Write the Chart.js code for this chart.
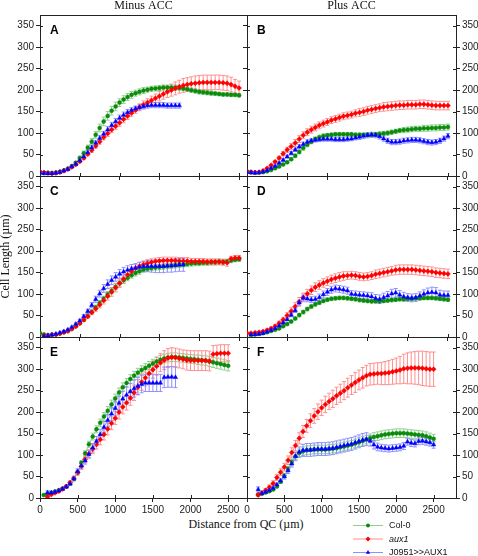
<!DOCTYPE html>
<html>
<head>
<meta charset="utf-8">
<script src="https://cdn.jsdelivr.net/npm/chart.js@4.4.1/dist/chart.umd.min.js"></script>
<style>
  html, body { margin: 0; padding: 0; background: #fff; }
  #wrap { position: relative; width: 478px; height: 556px; overflow: hidden; }
  #wrap canvas { position: absolute; left: 0; top: 0; }
  #xTitle { position: absolute; left: 96px; width: 300px; top: 517px; text-align: center;
    font: 12px 'Liberation Serif', 'Times New Roman', serif; color: #111; line-height: 14px; }
</style>
</head>
<body>
<div id="wrap"><div id="xTitle">Distance from QC (µm)</div></div>
<script>
// distance from QC (µm), one entry per measured position
const distance = [0,50,100,150,200,250,300,350,400,450,500,550,600,650,700,750,800,850,900,950,
  1000,1050,1100,1150,1200,1250,1300,1350,1400,1450,1500,1550,1600,1650,1700,1750,1800,1850,1900,1950,
  2000,2050,2100,2150,2200,2250,2300,2350,2400,2450,2500];
const xTickValues = [0, 500, 1000, 1500, 2000, 2500];
const yTickValues = [0, 50, 100, 150, 200, 250, 300, 350];
const seriesNames = ['Col-0', 'aux1', 'J0951>>AUX1'];

// A - minus ACC
const colA = [8,7,7,7,8,10,13,17,23,31, 42,53,66,80,96,112,127,140,152,162, 171,178,184,189,193,196,199,201,203,204, 205,206,206,206,206,205,204,202,200,198, 196,195,194,193,192,191,190,190,189,189, 188];
const auxA = [10,8,7,6,7,9,12,16,21,27, 34,42,51,60,70,80,90,99,108,116, 124,132,140,147,154,160,166,171,176,181, 186,191,196,200,204,208,211,213,215,216, 217,218,218,218,218,218,217,216,213,209, 205];
const j09A = [7,6,6,6,7,9,12,16,22,28, 36,45,55,66,77,88,98,108,118,127, 135,142,148,153,157,160,162,164,165,165, 165,165,164,164,164,164,null,null,null,null, null,null,null,null,null,null,null,null,null,null, null];
const eColA = [1,1,1,1,1,1,2,2,3,3, 4,5,6,7,8,9,10,10,10,10, 9,9,8,8,7,7,7,6,6,6, 6,6,6,6,6,5,5,5,5,5, 5,5,5,5,4,4,4,4,4,4, 4];
const eAuxA = [2,1,1,1,1,1,2,2,2,3, 3,4,4,5,5,6,6,7,7,7, 8,8,8,8,8,8,9,9,10,10, 11,12,13,14,15,15,16,16,16,17, 17,17,17,17,17,17,17,17,17,16, 16];
const eJ09A = [1,1,1,1,1,1,1,2,2,3, 3,4,4,5,5,6,6,7,7,7, 7,7,7,6,6,6,6,6,6,6, 6,6,6,6,6,6,0,0,0,0, 0,0,0,0,0,0,0,0,0,0, 0];

// B - plus ACC
const colB = [10,9,8,8,9,11,14,18,22,27, 32,39,47,56,65,73,80,86,90,93, 95,96,97,97,97,97,97,96,96,96, 96,96,97,98,99,100,102,104,106,107, 108,109,110,110,111,111,112,112,113,113, 114];
const auxB = [11,9,8,9,12,18,25,33,42,52, 61,69,77,86,95,102,108,113,118,122, 126,130,133,136,139,141,143,146,148,150, 153,155,157,159,161,162,163,164,165,165, 166,166,166,167,167,166,165,164,164,164, 164];
const j09B = [9,8,7,8,10,13,18,23,30,37, 45,53,61,68,74,79,82,84,85,86, 86,86,85,85,85,86,87,89,91,93, 95,96,95,92,87,82,79,79,80,82, 83,84,84,83,81,79,78,79,82,87, 93];
const eColB = [1,1,1,1,1,1,1,2,2,2, 3,3,4,4,5,5,5,5,5,5, 4,4,4,4,4,4,4,4,4,4, 4,4,4,5,5,5,5,5,5,6, 6,6,6,6,7,7,7,7,7,7, 7];
const eAuxB = [2,1,1,1,1,2,2,3,4,5, 6,7,8,8,8,8,8,8,8,8, 8,8,8,8,8,8,8,8,9,9, 9,9,9,9,10,10,10,10,10,10, 10,10,10,10,10,10,10,10,10,10, 10];
const eJ09B = [1,1,1,1,1,1,2,2,2,3, 3,4,4,5,5,5,5,5,5,5, 5,5,5,5,5,5,5,5,6,6, 6,6,6,6,6,6,6,6,6,6, 6,6,6,6,6,6,6,6,6,6, 6];

// C - minus ACC
const colC = [9,6,4,5,6,8,11,14,19,25, 32,40,49,59,69,79,89,99,108,117, 125,132,138,144,149,153,157,159,161,162, 163,164,165,166,167,168,169,170,171,172, 172,173,173,174,174,175,175,176,178,180, 181];
const auxC = [null,3,4,5,6,8,11,14,19,25, 32,40,48,57,66,75,85,95,105,115, 125,135,145,153,160,165,169,172,174,176, 177,178,178,178,178,177,177,177,176,176, 176,176,175,175,175,175,174,173,182,184, 184];
const j09C = [null,2,3,5,7,10,13,17,23,30, 38,48,60,74,88,101,113,123,132,140, 147,152,156,159,161,163,164,165,165,165, 165,165,166,166,167,168,168,null,null,null, null,null,null,null,null,null,null,null,null,null, null];
const eColC = [1,1,1,1,1,1,1,1,2,2, 3,3,4,4,5,6,6,7,7,7, 7,7,7,7,7,7,6,6,6,6, 6,6,6,6,6,6,6,6,6,6, 6,6,6,6,6,6,6,5,5,5, 5];
const eAuxC = [0,1,1,1,1,1,2,2,2,3, 3,4,4,5,6,7,8,9,10,10, 10,10,10,10,9,9,8,8,8,8, 8,8,8,8,8,8,8,8,7,7, 7,7,7,7,7,7,7,8,6,6, 6];
const eJ09C = [0,1,1,1,1,1,2,2,2,3, 3,4,5,6,7,8,9,10,10,10, 10,10,10,10,10,11,12,13,14,15, 15,15,15,15,15,15,15,0,0,0, 0,0,0,0,0,0,0,0,0,0, 0];

// D - plus ACC
const colD = [null,5,6,7,9,11,14,17,20,25, 30,36,43,51,58,65,71,76,80,84, 87,89,90,91,91,90,89,88,86,85, 84,83,83,83,84,85,86,87,88,88, 89,89,90,90,91,91,91,90,89,88, 87];
const auxD = [9,9,10,11,13,16,20,25,32,40, 50,60,71,82,92,101,109,116,121,126, 130,134,137,140,142,143,144,143,141,140, 141,143,146,148,150,152,154,156,157,157, 157,157,156,155,154,153,152,150,149,148, 147];
const j09D = [null,5,6,7,9,12,16,20,26,33, 41,51,62,80,91,89,87,88,92,99, 105,110,113,112,110,108,100,99,98,97, 96,94,90,88,92,96,101,103,98,94, 92,91,92,96,100,103,104,103,98,97, 97];
const eColD = [0,1,1,1,1,1,1,2,2,2, 3,3,3,4,4,4,4,4,4,4, 4,4,4,4,4,4,4,4,4,4, 4,4,4,4,4,4,4,4,4,4, 4,4,4,4,4,4,4,4,4,4, 4];
const eAuxD = [2,2,2,2,2,3,3,4,5,6, 7,8,9,10,10,10,10,10,10,10, 10,10,10,10,10,9,9,9,9,9, 9,9,10,10,10,10,10,11,11,11, 11,11,11,11,11,11,11,11,11,11, 11];
const eJ09D = [0,1,1,1,1,1,2,2,2,3, 3,4,5,6,7,7,7,7,8,8, 8,8,8,8,8,8,8,8,8,8, 8,9,9,10,10,10,10,10,10,10, 9,9,9,9,10,11,12,12,11,10, 10];

// E - minus ACC
const colE = [null,7,10,12,15,18,22,27,34,44, 60,82,104,125,143,160,175,190,203,218, 232,246,258,268,277,285,292,298,303,308, 313,318,322,325,327,328,328,327,326,325, 324,323,322,321,320,318,316,314,312,310, 308];
const auxE = [null,null,3,8,12,16,21,27,36,46, 59,74,90,103,114,125,136,148,161,174, 186,200,212,222,233,245,258,270,280,290, 299,307,315,321,326,328,327,325,323,321, 320,320,320,320,320,319,335,336,337,337, 337];
const j09E = [null,null,12,12,14,17,21,26,33,45, 62,75,87,102,117,132,148,165,181,196, 209,221,231,240,248,255,261,265,268,268, 268,268,268,281,282,282,281,null,null,null, null,null,null,null,null,null,null,null,null,null, null];
const eColE = [0,1,1,1,1,1,2,2,3,3, 4,5,6,7,8,8,9,9,10,10, 10,10,10,10,10,10,10,10,10,10, 10,10,10,10,10,10,10,10,10,10, 10,10,11,11,11,12,12,12,12,12, 12];
const eAuxE = [0,0,2,2,2,2,3,3,4,5, 6,7,8,9,10,11,12,13,14,15, 15,16,16,17,17,18,18,19,19,20, 20,21,21,22,22,22,22,22,22,23, 23,23,23,23,23,23,20,20,20,20, 20];
const eJ09E = [0,0,5,4,3,3,3,3,4,5, 6,7,8,9,10,11,12,13,14,15, 16,17,18,19,19,20,20,20,20,20, 20,20,20,24,24,24,24,0,0,0, 0,0,0,0,0,0,0,0,0,0, 0];

// F - plus ACC
const colF = [null,null,null,8,10,13,16,20,27,38, 52,68,84,97,105,109,111,112,113,113, 113,113,114,115,116,118,120,122,124,127, 130,133,136,139,142,144,146,148,149,150, 151,151,151,150,149,148,147,146,144,141, 138];
const auxF = [null,null,null,7,12,18,25,34,48,60, 72,88,106,122,139,155,168,180,191,201, 210,218,225,231,238,244,250,257,263,269, 275,280,285,288,289,290,290,291,292,294, 296,298,301,302,303,303,303,302,301,300, 300];
const j09F = [null,null,null,20,11,14,18,23,31,40, 50,64,80,97,107,111,112,112,113,114, 114,114,115,116,118,120,122,124,126,129, 132,135,137,133,124,119,117,116,115,116, 117,118,121,131,128,127,132,133,131,129, 124];
const eColF = [0,0,0,2,2,2,2,3,3,4, 5,6,7,8,9,10,10,10,10,10, 10,10,10,10,10,10,10,10,10,10, 10,10,10,10,10,10,10,10,10,10, 10,10,10,10,10,10,10,10,10,10, 10];
const eAuxF = [0,0,0,3,3,4,5,6,7,8, 9,10,11,12,13,14,15,16,17,18, 18,19,19,20,20,21,21,22,22,23, 23,24,24,25,25,25,26,27,28,29, 30,32,34,36,37,38,39,40,40,40, 40];
const eJ09F = [0,0,0,6,3,3,3,3,4,5, 6,7,8,10,12,14,15,15,15,15, 15,15,15,15,15,15,15,15,15,15, 15,15,15,12,10,9,8,8,8,8, 8,8,8,8,8,8,8,8,8,8, 8];

// panel layout (plot area edges in px)
const rowTop = [15, 176, 337];
const rowBottom = [176, 337, 498];
const colLeft = [40, 247];
const colRight = [247, 456];
const W = 478, H = 556;

const panels = [
  { letter: 'A', row: 0, col: 0, xMax: 2600, series: [colA, auxA, j09A], errs: [eColA, eAuxA, eJ09A] },
  { letter: 'B', row: 0, col: 1, xMax: 2600, series: [colB, auxB, j09B], errs: [eColB, eAuxB, eJ09B] },
  { letter: 'C', row: 1, col: 0, xMax: 2600, series: [colC, auxC, j09C], errs: [eColC, eAuxC, eJ09C] },
  { letter: 'D', row: 1, col: 1, xMax: 2600, series: [colD, auxD, j09D], errs: [eColD, eAuxD, eJ09D] },
  { letter: 'E', row: 2, col: 0, xMax: 2750, series: [colE, auxE, j09E], errs: [eColE, eAuxE, eJ09E] },
  { letter: 'F', row: 2, col: 1, xMax: 2800, series: [colF, auxF, j09F], errs: [eColF, eAuxF, eJ09F] }
];

const styles = [
  { dark: '#0b8a0b', light: '#8fd28f', point: 'circle', radius: 2.0 },
  { dark: '#ff0000', light: '#ff8f8f', point: 'rectRot', radius: 2.5 },
  { dark: '#0000ff', light: '#8f8fff', point: 'triangle', radius: 2.5 }
];

const axisColor = '#222';
const sans = "'Liberation Sans', Arial, sans-serif";
const serif = "'Liberation Serif', 'Times New Roman', serif";
const tickFont = { family: sans, size: 10 };

function fixedSize(n) {
  return s => { if (s.isHorizontal()) s.height = n; else s.width = n; };
}

function drawMarker(ctx, style, x, y, r, rot) {
  ctx.beginPath();
  if (style === 'circle') {
    ctx.arc(x, y, r, 0, Math.PI * 2);
  } else if (style === 'rectRot') {
    ctx.moveTo(x, y - r); ctx.lineTo(x + r, y); ctx.lineTo(x, y + r); ctx.lineTo(x - r, y);
  } else {
    const s = rot ? -1 : 1;
    ctx.moveTo(x, y - s * r); ctx.lineTo(x + r * 0.87, y + s * r * 0.5); ctx.lineTo(x - r * 0.87, y + s * r * 0.5);
  }
  ctx.closePath();
  ctx.fill();
}

// vertical error bars with small caps, under the markers
const errorBars = {
  id: 'errorBars',
  beforeDatasetsDraw(chart) {
    const ctx = chart.ctx, a = chart.chartArea;
    const xs = chart.scales.x, ys = chart.scales.y;
    ctx.save();
    ctx.beginPath(); ctx.rect(a.left, a.top, a.right - a.left, a.bottom - a.top); ctx.clip();
    ctx.lineWidth = 1;
    chart.data.datasets.forEach(ds => {
      ctx.strokeStyle = ds.borderColor;
      ds.data.forEach((pt, i) => {
        const e = ds.errors[i];
        if (pt.y == null || !e) return;
        const px = xs.getPixelForValue(pt.x);
        const top = ys.getPixelForValue(pt.y + e), bot = ys.getPixelForValue(pt.y - e);
        ctx.beginPath();
        ctx.moveTo(px, top); ctx.lineTo(px, bot);
        ctx.moveTo(px - 2, top); ctx.lineTo(px + 2, top);
        ctx.moveTo(px - 2, bot); ctx.lineTo(px + 2, bot);
        ctx.stroke();
      });
    });
    ctx.restore();
  }
};

// tick marks cross the axis: this adds the inner half
const innerTicks = {
  id: 'innerTicks',
  beforeDatasetsDraw(chart, args, opts) {
    const ctx = chart.ctx, a = chart.chartArea;
    ctx.save();
    ctx.strokeStyle = axisColor; ctx.lineWidth = 1;
    (opts.axes || []).forEach(id => {
      const s = chart.scales[id];
      s.ticks.forEach((t, i) => {
        const p = Math.round(s.getPixelForTick(i)) + 0.5;
        ctx.beginPath();
        if (s.isHorizontal()) { ctx.moveTo(p, a.bottom); ctx.lineTo(p, a.bottom - 3); }
        else if (s.position === 'left') { ctx.moveTo(a.left, p); ctx.lineTo(a.left + 3, p); }
        else { ctx.moveTo(a.right, p); ctx.lineTo(a.right - 3, p); }
        ctx.stroke();
      });
    });
    ctx.restore();
  }
};

const panelLetter = {
  id: 'panelLetter',
  afterDraw(chart, args, opts) {
    const ctx = chart.ctx, a = chart.chartArea;
    ctx.save();
    ctx.fillStyle = '#000';
    ctx.font = 'bold 12px ' + sans;
    ctx.textBaseline = 'alphabetic';
    ctx.fillText(opts.text, a.left + 10, a.top + 18.5);
    ctx.restore();
  }
};

const legendBox = {
  id: 'legendBox',
  afterDraw(chart, args, opts) {
    if (!opts.show) return;
    const ctx = chart.ctx, a = chart.chartArea;
    ctx.save();
    chart.data.datasets.forEach((ds, k) => {
      const y = a.bottom + 27 + k * 13.5;
      const x0 = a.left + 106;
      ctx.strokeStyle = ds.borderColor; ctx.lineWidth = 1;
      ctx.beginPath(); ctx.moveTo(x0, y + 0.5); ctx.lineTo(x0 + 30, y + 0.5); ctx.stroke();
      ctx.fillStyle = ds.pointBackgroundColor;
      drawMarker(ctx, styles[k].point, x0 + 15, y + 0.5, styles[k].radius, false);
      ctx.fillStyle = '#111';
      ctx.font = (k === 1 ? 'italic ' : '') + '9px ' + sans;
      ctx.textBaseline = 'middle';
      ctx.fillText(ds.label, x0 + 36, y + 1);
    });
    ctx.restore();
  }
};

const wrap = document.getElementById('wrap');

panels.forEach(p => {
  const canvas = document.createElement('canvas');
  canvas.width = W; canvas.height = H;
  canvas.style.width = W + 'px'; canvas.style.height = H + 'px';
  wrap.appendChild(canvas);

  const bottomRow = p.row === 2;
  const left = p.col === 0;
  const xH = bottomRow ? 20 : 4;
  const topH = p.row === 0 ? 15 : 0;
  const labW = left ? 40 : 22;
  const otherW = left ? 0 : 4;

  const datasets = p.series.map((vals, k) => ({
    label: seriesNames[k],
    data: distance.map((d, i) => ({ x: d, y: vals[i] })),
    errors: p.errs[k],
    xAxisID: 'x', yAxisID: 'y',
    borderColor: styles[k].light,
    borderWidth: 1,
    pointStyle: styles[k].point,
    pointRadius: styles[k].radius,
    pointRotation: (p.letter === 'D' && k === 1) ? 180 : 0,
    pointBackgroundColor: styles[k].dark,
    pointBorderColor: styles[k].dark,
    pointBorderWidth: 0.5,
    tension: 0, fill: false, spanGaps: false,
    order: 3 - k
  }));

  new Chart(canvas, {
    type: 'line',
    data: { datasets },
    plugins: [errorBars, innerTicks, panelLetter, legendBox],
    options: {
      responsive: false, animation: false, events: [],
      layout: {
        autoPadding: false,
        padding: {
          left: colLeft[p.col] - (left ? labW : otherW),
          right: W - colRight[p.col] - (left ? otherW : labW),
          top: rowTop[p.row] - topH,
          bottom: H - rowBottom[p.row] - xH
        }
      },
      plugins: {
        legend: { display: false },
        tooltip: { enabled: false },
        innerTicks: { axes: left ? ['x', 'y'] : ['x', 'y', 'y2'] },
        panelLetter: { text: p.letter },
        legendBox: { show: p.letter === 'F' }
      },
      scales: {
        x: {
          type: 'linear', position: 'bottom', min: 0, max: p.xMax,
          afterBuildTicks: s => { s.ticks = xTickValues.map(v => ({ value: v })); },
          afterFit: fixedSize(xH),
          grid: { display: true, drawOnChartArea: false, drawTicks: true, tickLength: 4, color: axisColor },
          border: { display: true, color: axisColor, width: 1 },
          ticks: { display: bottomRow, font: tickFont, color: '#222', padding: 2, maxRotation: 0, autoSkip: false,
                   callback: v => String(v) }
        },
        x2: {
          type: 'linear', position: 'top', min: 0, max: p.xMax,
          afterFit: fixedSize(topH),
          grid: { display: false },
          border: { display: true, color: axisColor, width: 1 },
          ticks: { display: false },
          title: { display: p.row === 0, text: left ? 'Minus ACC' : 'Plus ACC',
                   font: { family: serif, size: 12 }, color: '#111', padding: { top: -1, bottom: 0 } }
        },
        y: {
          type: 'linear', position: left ? 'left' : 'right', min: 0, max: 375,
          afterBuildTicks: s => { s.ticks = yTickValues.map(v => ({ value: v })); },
          afterFit: fixedSize(labW),
          grid: { display: true, drawOnChartArea: false, drawTicks: true, tickLength: 4, color: axisColor },
          border: { display: true, color: axisColor, width: 1 },
          ticks: { display: true, font: tickFont, color: '#222', padding: 2, autoSkip: false,
                   callback: v => String(v) },
          title: { display: p.letter === 'C', text: 'Cell Length (µm)',
                   font: { family: serif, size: 12 }, color: '#111', padding: { top: -1, bottom: 0 } }
        },
        y2: {
          type: 'linear', position: left ? 'right' : 'left', min: 0, max: 375,
          afterBuildTicks: s => { s.ticks = yTickValues.map(v => ({ value: v })); },
          afterFit: fixedSize(otherW),
          grid: { display: !left, drawOnChartArea: false, drawTicks: true, tickLength: 4, color: axisColor },
          border: { display: true, color: axisColor, width: 1 },
          ticks: { display: false }
        }
      }
    }
  });
});
</script>
</body>
</html>
